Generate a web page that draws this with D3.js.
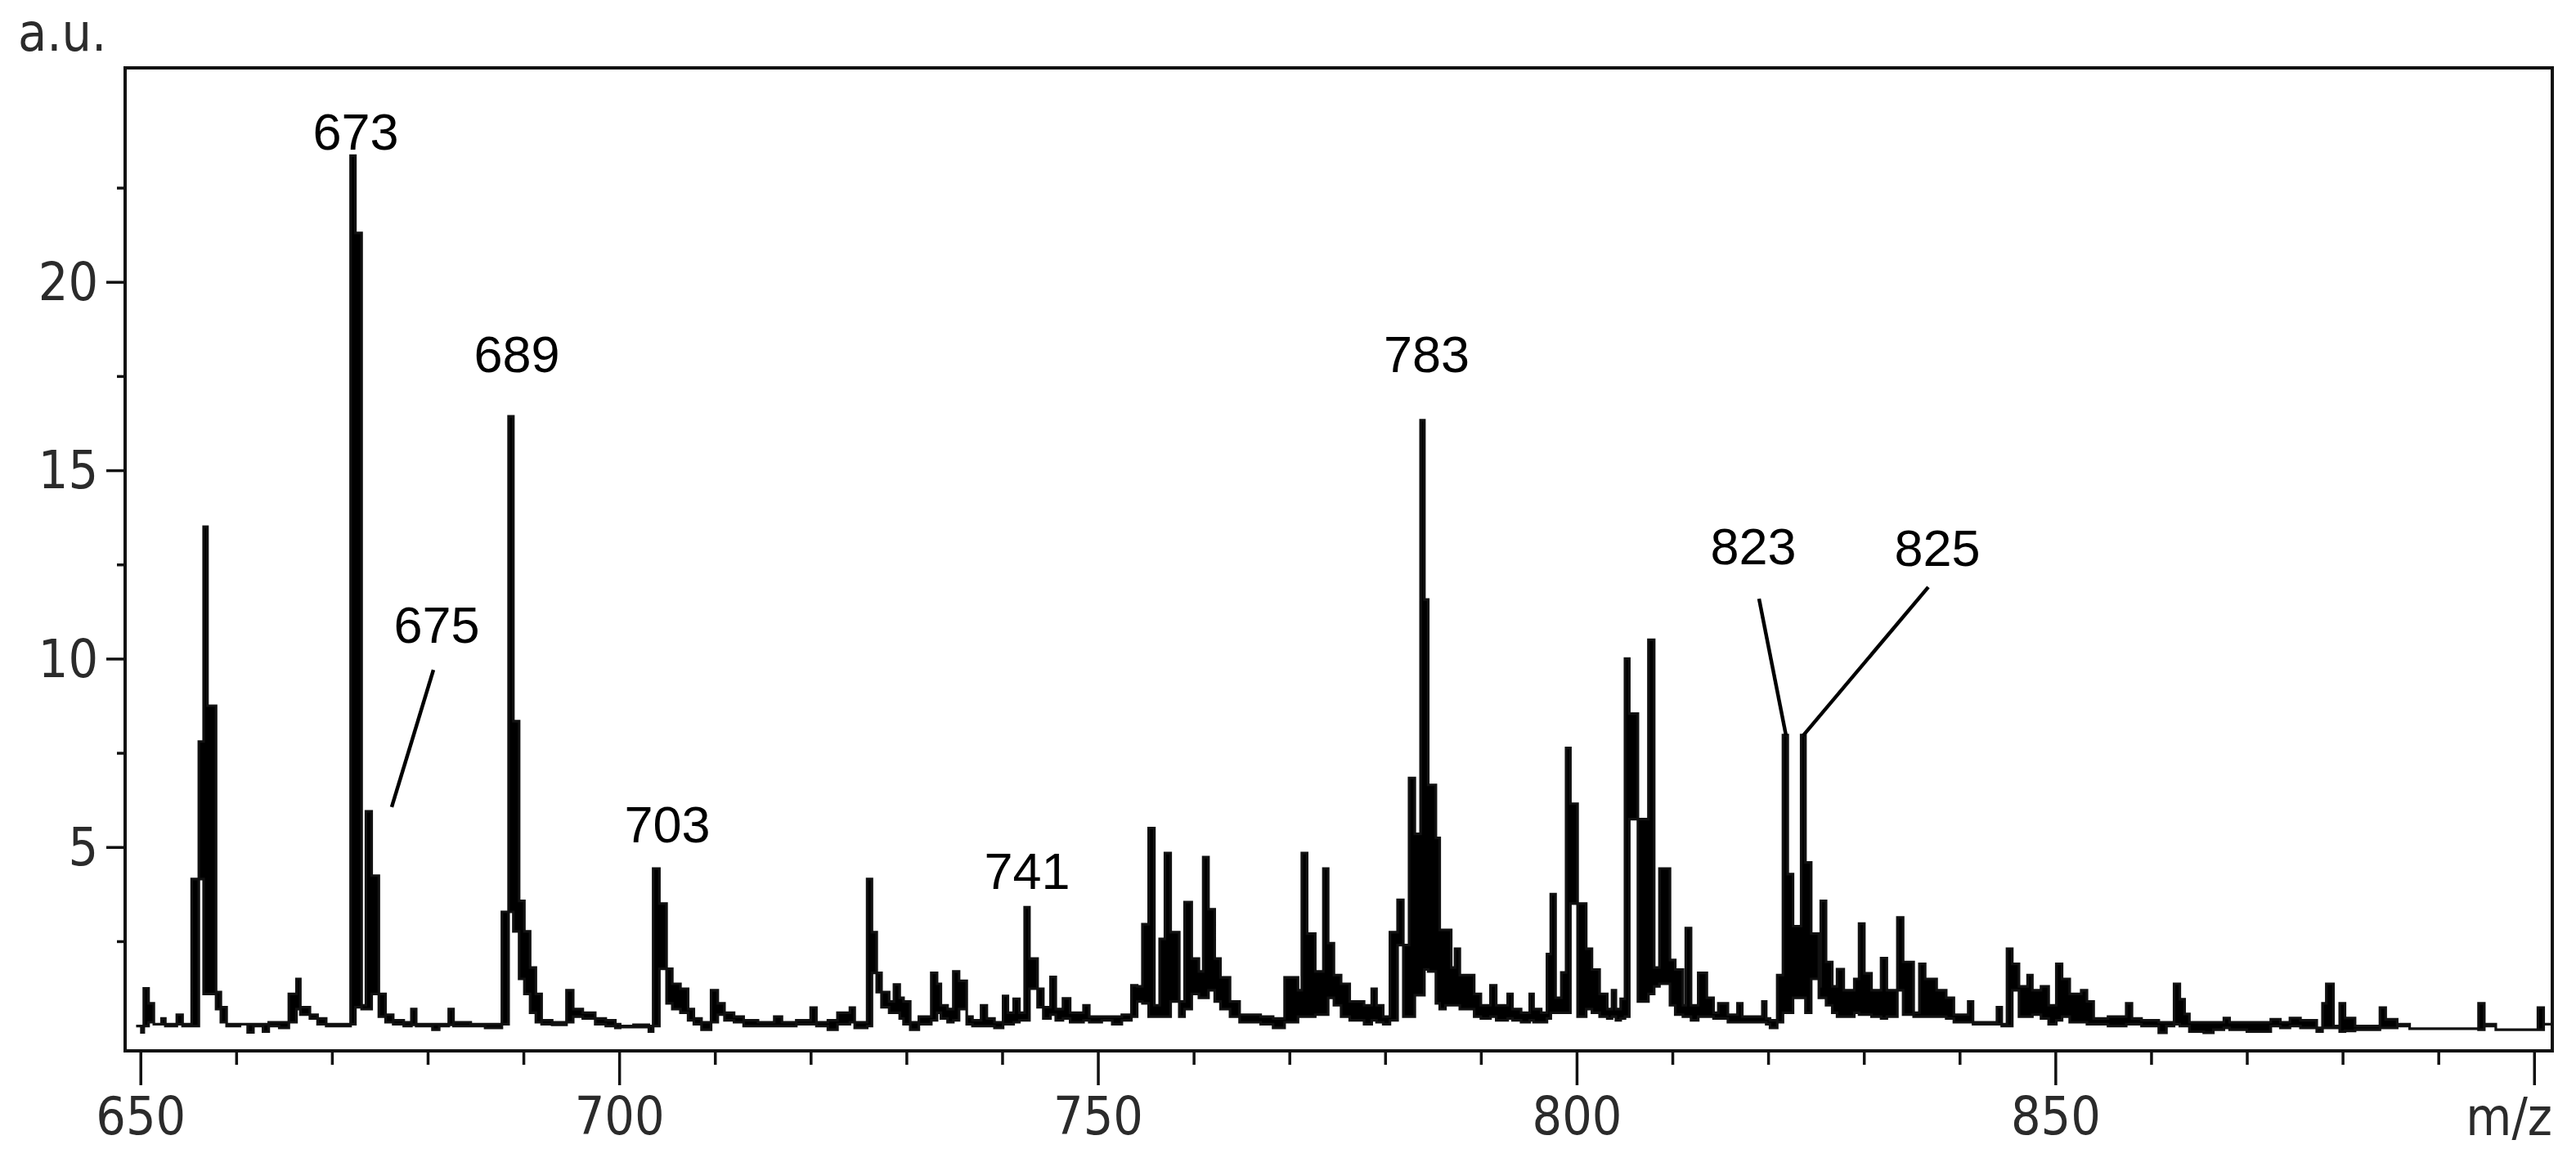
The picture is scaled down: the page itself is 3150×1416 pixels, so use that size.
<!DOCTYPE html>
<html>
<head>
<meta charset="utf-8">
<script src="https://cdn.jsdelivr.net/npm/d3@7"></script>
<style>
  html, body { margin: 0; padding: 0; background: #fff; }
  svg { display: block; }
  .axis text { font-family: "DejaVu Sans Condensed", "DejaVu Sans", sans-serif; font-stretch: condensed; font-size: 64px; fill: #2b2b2b; }
  .title { font-family: "DejaVu Sans Condensed", "DejaVu Sans", sans-serif; font-stretch: condensed; font-size: 64px; fill: #2b2b2b; }
  .peak { font-family: "Liberation Sans", Arial, sans-serif; font-size: 63px; fill: #000; }
</style>
</head>
<body>
<svg id="chart" width="3150" height="1416"></svg>
<script>
// ---- spectrum columns: [m/z start, low intensity, high intensity] (held until next m/z) ----
const region650 = [
  [649.55,0.25,0.25],[650.1,0.08,0.25],[650.35,0.25,1.25],[650.85,0.35,0.85],[651.4,0.3,0.3],
  [652.2,0.3,0.45],[652.6,0.25,0.3],[653.8,0.3,0.55],[654.4,0.25,0.3],[655.35,0.25,4.15],
  [656.1,4.15,7.8],[656.6,1.1,13.5],[657.0,1.1,8.75],[657.9,0.7,1.15],[658.4,0.35,0.75],
  [659.0,0.25,0.3],[660.4,0.3,0.3],[661.2,0.08,0.3],[661.8,0.25,0.3],[662.8,0.1,0.3],
  [663.4,0.25,0.35],[664.5,0.2,0.35],[665.5,0.35,1.1],[666.3,0.7,1.5],[666.7,0.55,0.75],
  [667.7,0.45,0.55],[668.5,0.3,0.45],[669.4,0.25,0.3],[671.5,0.25,0.3],[671.95,0.3,23.35],
  [672.45,0.75,21.3],[673.1,0.7,0.8],[673.55,0.7,5.95],[674.15,1.1,4.24],[674.9,0.5,1.1],
  [675.6,0.35,0.55],[676.4,0.3,0.4],[677.5,0.25,0.35],[678.3,0.28,0.7],[678.8,0.25,0.3],
  [680.5,0.15,0.3],[681.2,0.25,0.3],[682.2,0.28,0.7],[682.7,0.25,0.35],[684.5,0.25,0.3],
  [686.0,0.2,0.3],[687.75,0.3,3.28],[688.45,3.28,16.43],[688.95,2.76,8.34],[689.55,1.5,3.57],
  [690.1,1.1,2.76],[690.7,0.6,1.8],[691.3,0.35,1.1],[691.9,0.3,0.4],[693.0,0.28,0.35],
  [694.5,0.35,1.2],[695.2,0.5,0.7],[696.2,0.45,0.6],[697.5,0.3,0.45],[698.6,0.25,0.4],
  [699.6,0.2,0.3]
];
const region700 = [
  [700.1,0.22,0.25],[701.5,0.22,0.28],[703.1,0.1,0.25],[703.55,0.25,4.43],[704.2,1.77,3.5],
  [704.95,0.85,1.77],[705.55,0.7,1.37],[706.4,0.6,1.24],[707.2,0.4,0.7],[707.8,0.3,0.45],
  [708.6,0.15,0.35],[709.6,0.35,1.2],[710.3,0.55,0.85],[711.0,0.4,0.6],[712.0,0.35,0.5],
  [713.0,0.25,0.4],[714.5,0.25,0.35],[716.2,0.25,0.5],[717.0,0.25,0.35],[718.5,0.3,0.4],
  [720.0,0.3,0.74],[720.6,0.25,0.35],[721.8,0.15,0.4],[722.8,0.3,0.6],[724.1,0.35,0.74],
  [724.6,0.2,0.35],[725.9,0.25,4.15],[726.4,1.66,2.74],[726.9,1.15,1.66],[727.4,0.75,1.15],
  [728.2,0.6,0.9],[728.7,0.6,1.35],[729.3,0.45,1.0],[729.7,0.3,0.9],[730.4,0.15,0.35],
  [731.3,0.3,0.5],[732.6,0.4,1.66],[733.2,0.6,1.37],[733.6,0.45,0.8],[734.3,0.35,0.7],
  [734.9,0.4,1.7],[735.5,0.7,1.45],[736.3,0.3,0.5],[736.9,0.25,0.4],[737.8,0.25,0.8],
  [738.4,0.25,0.45],[739.2,0.2,0.35],[740.1,0.3,1.05],[740.6,0.3,0.6],[741.2,0.35,0.97],
  [741.8,0.4,0.6],[742.35,0.4,3.4],[742.85,1.24,2.04],[743.7,0.75,1.24],[744.3,0.45,0.75],
  [745.05,0.55,1.55],[745.6,0.4,0.7],[746.35,0.45,0.98],[747.1,0.35,0.6],[748.5,0.4,0.8],
  [749.1,0.35,0.5],[750.4,0.4,0.5],[751.5,0.3,0.5],[752.5,0.4,0.55],[753.5,0.5,1.33],
  [754.1,0.9,1.3],[754.65,0.85,2.95]
];
const region750 = [
  [755.3,0.5,5.5],[755.9,0.5,0.8],[756.45,0.5,2.56],[757.0,0.5,4.84],[757.6,0.9,2.74],
  [758.5,0.5,0.9],[759.05,0.7,3.54],[759.8,1.1,2.04],[760.55,1.0,1.7],[761.0,1.0,4.73],
  [761.55,1.2,3.35],[762.2,0.9,2.04],[762.8,0.7,1.54],[763.8,0.5,0.9],[764.8,0.35,0.55],
  [766.0,0.35,0.55],[767.0,0.3,0.5],[768.3,0.2,0.45],[769.5,0.35,1.54],[770.9,0.5,1.2],
  [771.3,0.5,4.84],[771.85,0.5,2.7],[772.7,0.55,1.7],[773.55,0.55,4.43],[774.05,1.0,2.45],
  [774.65,0.8,1.6],[775.4,0.5,1.37],[776.3,0.4,0.9],[777.8,0.3,0.8],[778.6,0.4,1.24],
  [779.1,0.35,0.8],[779.8,0.3,0.5],[780.5,0.4,2.74],[781.3,2.4,3.6],[781.9,0.5,2.4],
  [782.5,0.5,6.83],[783.1,1.07,5.35],[783.7,1.07,16.33],[784.1,1.75,11.57],[784.5,1.7,6.65],
  [785.3,0.85,5.24],[785.7,0.7,2.8],[786.3,0.8,2.8],[786.9,0.8,1.8],[787.3,0.8,2.3],
  [787.8,0.7,1.6],[789.3,0.5,1.1],[790.0,0.45,0.8],[791.0,0.5,1.33],
  [791.6,0.4,0.8],[792.8,0.45,1.1],[793.3,0.4,0.7],[794.2,0.35,0.6],[795.1,0.4,1.1],
  [795.5,0.35,0.7],[796.3,0.35,0.6],[796.9,0.45,2.16],[797.3,0.6,3.75],[797.8,0.6,1.0],
  [798.4,0.6,1.67],[798.9,0.6,7.63],[799.35,3.5,6.15]
];
const region800 = [
  [800.1,0.5,3.5],[801.0,0.7,2.3],[801.6,0.6,1.75],[802.4,0.5,1.1],[803.2,0.45,0.7],
  [803.7,0.5,1.2],[804.1,0.4,0.7],[804.6,0.45,0.97],[805.05,0.5,10.0],[805.5,5.74,8.54],
  [806.4,0.9,5.74],[807.5,1.1,10.5],[808.1,1.3,1.8],[808.65,1.37,4.43],[809.75,0.8,2.0],
  [810.3,0.55,1.75],[811.1,0.5,0.8],[811.4,0.5,2.85],[811.95,0.4,0.8],[812.7,0.5,1.66],
  [813.6,0.5,1.0],[814.3,0.45,0.6],[814.8,0.45,0.85],[815.8,0.35,0.55],[816.8,0.35,0.85],
  [817.3,0.35,0.5],[819.4,0.35,0.9],[819.8,0.3,0.45],[820.2,0.2,0.4],[820.95,0.35,1.6],
  [821.55,0.6,7.97],[822.05,0.6,4.28],[822.6,1.0,2.9],[823.45,1.0,7.97],[823.9,0.6,4.59],
  [824.5,1.5,2.7],[825.3,1.0,1.3],[825.5,1.0,3.57],[826.05,0.8,1.95],[826.7,0.6,1.3],
  [827.2,0.5,1.76],[827.9,0.5,1.2],[829.0,0.6,1.5],[829.5,0.55,2.97],[830.05,0.55,1.65],
  [830.8,0.5,1.2],[831.8,0.45,2.05],[832.4,0.5,1.2],[833.5,1.2,3.13],[834.1,0.55,1.95],
  [835.2,0.5,0.6],[835.8,0.5,1.9],[836.4,0.5,1.5],[837.6,0.5,1.2],[838.6,0.45,1.0],
  [839.4,0.35,0.55],[840.9,0.35,0.9],[841.4,0.3,0.35],[843.9,0.3,0.75],[844.4,0.25,0.3],
  [844.95,0.25,2.3],[845.5,1.2,1.9],[846.2,0.5,1.3],[847.1,0.5,1.6],[847.6,0.55,1.2],
  [848.5,0.45,1.3],[849.3,0.3,0.8]
];
const region850 = [
  [850.1,0.4,1.9],[850.7,0.5,1.5],[851.5,0.35,1.1],[852.7,0.35,1.2],[853.3,0.3,0.9],
  [854.0,0.3,0.45],[855.5,0.25,0.5],[857.4,0.3,0.85],[858.0,0.3,0.45],[859.0,0.25,0.4],
  [860.8,0.07,0.35],[861.6,0.25,0.35],[862.4,0.3,1.37],[863.0,0.25,0.96],[863.5,0.25,0.57],
  [864.0,0.1,0.35],[865.5,0.07,0.35],[866.5,0.15,0.35],[867.6,0.2,0.46],[868.2,0.15,0.35],
  [870.0,0.1,0.35],[872.5,0.25,0.43],[873.5,0.2,0.35],[874.5,0.25,0.46],[875.6,0.2,0.4],
  [877.3,0.1,0.2],[877.9,0.2,0.85],[878.3,0.2,1.37],[879.05,0.2,0.25],[879.7,0.1,0.85],
  [880.25,0.12,0.46],[881.3,0.15,0.25],[883.9,0.2,0.74],[884.5,0.2,0.43],[885.7,0.25,0.3],
  [887.0,0.18,0.18],[894.2,0.15,0.85],[894.8,0.25,0.3],[896.0,0.15,0.15],[900.4,0.15,0.74],
  [901.0,0.3,0.3],[901.85,0.3,0.3]
];

// ---- annotations ----
const peakLabels = ["673", "675", "689", "703", "741", "783", "823", "825"];
const labelMz    = [672.49, 680.94, 689.31, 705.03, 742.61, 784.33, 818.45, 837.67];
const labelInt   = [23.51, 10.42, 17.61, 5.12, 3.89, 17.61, 12.50, 12.46];
const leaderFromMz  = [680.6, 819.05, 836.73];
const leaderFromInt = [9.70, 11.59, 11.90];
const leaderToMz    = [676.24, 821.87, 823.66];
const leaderToInt   = [6.06, 7.96, 7.96];

// ---- axes ----
const xMajorTicks = [650, 700, 750, 800, 850, 900];
const xTickLabels = ["650", "700", "750", "800", "850", ""];
const xMinorTicks = [660, 670, 680, 690, 710, 720, 730, 740, 760, 770, 780, 790, 810, 820, 830, 840, 860, 870, 880, 890];
const yMajorTicks = [5, 10, 15, 20];
const yMinorTicks = [2.5, 7.5, 12.5, 17.5, 22.5];
const xDomain = [648.4, 901.9];
const yDomain = [-0.41, 25.68];
const yTitle = "a.u.";
const xTitle = "m/z";

const spectrum = [].concat(region650, region700, region750, region800, region850);

const svg = d3.select("#chart");
const plotL = 153, plotR = 3121, plotT = 83, plotB = 1285;
const x = d3.scaleLinear().domain(xDomain).range([plotL, plotR]);
const y = d3.scaleLinear().domain(yDomain).range([plotB, plotT]);

// spectrum trace
const area = d3.area()
  .x(d => x(d[0]))
  .y0(d => y(d[1]))
  .y1(d => y(d[2]))
  .curve(d3.curveStepAfter);
svg.append("path")
  .datum(spectrum)
  .attr("d", area)
  .attr("fill", "#000")
  .attr("stroke", "#111")
  .attr("stroke-width", 3.2)
  .attr("stroke-linejoin", "miter");

// axes
function styleAxis(g) {
  g.select(".domain").remove();
  g.selectAll(".tick line").attr("stroke", "#111").attr("stroke-width", 3.5);
}
const gxMinor = svg.append("g").attr("class", "axis").attr("transform", `translate(0,${plotB})`)
  .call(d3.axisBottom(x).tickValues(xMinorTicks).tickSize(17).tickFormat(""));
styleAxis(gxMinor);
const gxMajor = svg.append("g").attr("class", "axis").attr("transform", `translate(0,${plotB})`)
  .call(d3.axisBottom(x).tickValues(xMajorTicks).tickSize(42).tickPadding(15)
    .tickFormat((d, i) => xTickLabels[i]));
styleAxis(gxMajor);
gxMajor.selectAll("text").attr("fill", "#2b2b2b");

const gyMinor = svg.append("g").attr("class", "axis").attr("transform", `translate(${plotL},0)`)
  .call(d3.axisLeft(y).tickValues(yMinorTicks).tickSize(10).tickFormat(""));
styleAxis(gyMinor);
const gyMajor = svg.append("g").attr("class", "axis").attr("transform", `translate(${plotL},0)`)
  .call(d3.axisLeft(y).tickValues(yMajorTicks).tickSize(23).tickPadding(10).tickFormat(d3.format("d")));
styleAxis(gyMajor);
gyMajor.selectAll("text").attr("fill", "#2b2b2b").attr("dy", "0.34em");

// frame
svg.append("rect")
  .attr("x", plotL).attr("y", plotT)
  .attr("width", plotR - plotL).attr("height", plotB - plotT)
  .attr("fill", "none").attr("stroke", "#111").attr("stroke-width", 4);

// titles
svg.append("text").attr("class", "title").attr("x", 22).attr("y", 62).text(yTitle);
svg.append("text").attr("class", "title").attr("x", plotR).attr("y", 1388)
  .attr("text-anchor", "end").text(xTitle);

// peak labels
svg.selectAll("text.peak").data(peakLabels).enter().append("text")
  .attr("class", "peak")
  .attr("x", (d, i) => x(labelMz[i]))
  .attr("y", (d, i) => y(labelInt[i]))
  .attr("text-anchor", "middle")
  .text(d => d);

// leader lines
svg.selectAll("line.leader").data(leaderFromMz).enter().append("line")
  .attr("class", "leader")
  .attr("x1", (d, i) => x(leaderFromMz[i]))
  .attr("y1", (d, i) => y(leaderFromInt[i]))
  .attr("x2", (d, i) => x(leaderToMz[i]))
  .attr("y2", (d, i) => y(leaderToInt[i]))
  .attr("stroke", "#000").attr("stroke-width", 4.5);
</script>
</body>
</html>
